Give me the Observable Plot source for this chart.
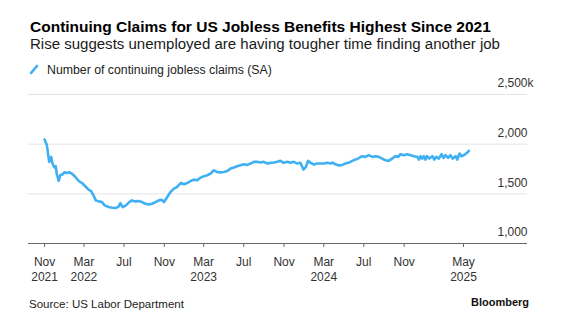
<!DOCTYPE html>
<html><head><meta charset="utf-8">
<script src="https://cdn.jsdelivr.net/npm/d3@7"></script>
<script src="https://cdn.jsdelivr.net/npm/@observablehq/plot@0.6"></script>
<style>
body{margin:0;background:#fff;font-family:"Liberation Sans",Arial,sans-serif;}
#wrap{position:relative;width:564px;height:327px;overflow:hidden;background:#fff}
.t{position:absolute;white-space:nowrap;line-height:1}
</style></head><body>
<div id="wrap">
<div class="t" id="title" data-w="461" style="left:30px;top:19px;font-size:15px;font-weight:bold;color:#000">Continuing Claims for US Jobless Benefits Highest Since 2021</div>
<div class="t" id="sub" data-w="470" style="left:30px;top:36px;font-size:15px;color:#1a1a1a">Rise suggests unemployed are having tougher time finding another job</div>
<svg class="t" style="left:29px;top:64px" width="10" height="11"><line x1="2" y1="9" x2="8" y2="2" stroke="#3fb0f3" stroke-width="2.6" stroke-linecap="round"/></svg>
<div class="t" id="leg" data-w="225" style="left:47px;top:64px;font-size:12px;color:#222">Number of continuing jobless claims (SA)</div>
<div id="chart" style="position:absolute;left:0;top:70px"></div>
<div class="t" id="src" data-w="155" style="left:29px;top:299px;font-size:11px;color:#222">Source: US Labor Department</div>
<div class="t" id="bb" data-w="58" style="right:35px;top:297px;font-size:12px;font-weight:bold;color:#111">Bloomberg</div>
</div>
<script>
// Weekly continuing claims (thousands)
const dates = [
"2021-11-01","2021-11-08","2021-11-15","2021-11-21","2021-11-25","2021-12-01","2021-12-05","2021-12-08","2021-12-14","2021-12-19","2021-12-26",
"2022-01-01","2022-01-08","2022-01-15","2022-01-23","2022-02-03","2022-02-13","2022-02-23","2022-03-05","2022-03-15","2022-03-23","2022-03-30",
"2022-04-06","2022-04-15","2022-04-25","2022-05-03","2022-05-15","2022-05-27","2022-06-06","2022-06-15","2022-06-20","2022-06-27","2022-07-07",
"2022-07-17","2022-07-25","2022-08-04","2022-08-15","2022-08-25","2022-09-04","2022-09-15","2022-09-25","2022-10-05","2022-10-15","2022-10-24",
"2022-10-31","2022-11-10","2022-11-20","2022-11-30","2022-12-10","2022-12-21","2022-12-31",
"2023-01-10","2023-01-20","2023-01-30","2023-02-09","2023-02-19","2023-03-02","2023-03-12","2023-03-22","2023-04-01","2023-04-11","2023-04-21",
"2023-05-01","2023-05-12","2023-05-22","2023-06-01","2023-06-11","2023-06-21","2023-07-01","2023-07-12","2023-07-22","2023-08-01","2023-08-11",
"2023-08-21","2023-08-31","2023-09-11","2023-09-21","2023-10-01","2023-10-11","2023-10-21","2023-10-31","2023-11-11","2023-11-21","2023-12-01",
"2023-12-11","2023-12-21","2023-12-30",
"2024-01-06","2024-01-13","2024-01-21","2024-01-31","2024-02-10","2024-02-20","2024-03-01","2024-03-12","2024-03-22","2024-03-27","2024-04-06",
"2024-04-16","2024-04-26","2024-05-06","2024-05-17","2024-05-27","2024-06-06","2024-06-16","2024-06-26","2024-07-06","2024-07-16","2024-07-27",
"2024-08-06","2024-08-16","2024-08-26","2024-09-05","2024-09-15","2024-09-25","2024-10-06","2024-10-14","2024-10-21","2024-10-31","2024-11-10",
"2024-11-21","2024-12-01","2024-12-11","2024-12-16","2024-12-21","2024-12-26","2024-12-31",
"2025-01-05","2025-01-10","2025-01-17","2025-01-26","2025-02-01","2025-02-07","2025-02-15","2025-02-23","2025-03-01","2025-03-07","2025-03-15",
"2025-03-22","2025-03-29","2025-04-07","2025-04-12","2025-04-19","2025-04-25","2025-05-02","2025-05-12","2025-05-17"
];
const claims = [
2047,1990,1821,1872,1805,1765,1778,1704,1629,1687,1697,
1717,1710,1717,1704,1670,1629,1609,1576,1542,1528,1485,
1434,1424,1417,1384,1367,1360,1357,1374,1407,1367,1384,
1417,1434,1424,1427,1417,1400,1394,1400,1417,1434,1441,
1417,1468,1518,1552,1569,1609,1596,
1609,1629,1643,1636,1663,1677,1687,1704,1737,1720,1714,
1720,1730,1754,1765,1778,1788,1798,1791,1805,1822,1822,
1815,1822,1805,1812,1815,1822,1832,1812,1822,1812,1822,
1805,1812,1744,
1768,1832,1812,1795,1805,1805,1805,1812,1805,1815,1798,
1785,1791,1805,1815,1832,1845,1860,1879,1872,1889,1872,
1879,1872,1855,1838,1832,1855,1879,1872,1899,1889,1899,
1889,1879,1872,1845,1879,1855,1879,
1845,1879,1855,1879,1845,1872,1855,1899,1862,1889,1862,
1889,1855,1879,1845,1906,1879,1889,1913,1933
];
const xTickDates = ["2021-11-01","2022-03-01","2022-07-01","2022-11-01","2023-03-01","2023-07-01","2023-11-01","2024-03-01","2024-07-01","2024-11-01","2025-05-01"];
const xTickLabels = ["Nov\n2021","Mar\n2022","Jul","Nov","Mar\n2023","Jul","Nov","Mar\n2024","Jul","Nov","May\n2025"];
const yTicks = [1000, 1500, 2000, 2500];
const yTickLabels = ["1,000","1,500","2,000","2,500"];
const xDomain = ["2021-09-13","2025-11-12"];

const data = dates.map((d, i) => ({date: new Date(d), value: claims[i]}));
const tickDates = xTickDates.map(d => new Date(d));
const labelMap = new Map(tickDates.map((d, i) => [+d, xTickLabels[i]]));
const yLab = yTicks.map((v, i) => ({v, label: yTickLabels[i]}));

const chart = Plot.plot({
  width: 564, height: 220,
  marginLeft: 28, marginRight: 37, marginTop: 24, marginBottom: 47,
  style: {fontFamily: '"Liberation Sans", Arial, sans-serif', background: "transparent", overflow: "visible"},
  x: {type: "utc", domain: xDomain.map(d => new Date(d))},
  y: {domain: [1000, 2500], axis: null},
  marks: [
    Plot.ruleY(yTicks.filter(v => v > 1000), {stroke: "#e4e4e4", strokeWidth: 1}),
    Plot.ruleY([1000], {stroke: "#666", strokeWidth: 1}),
    Plot.axisX({ticks: tickDates, tickFormat: d => labelMap.get(+d), tickSize: 4, tickPadding: 8,
      fontSize: 12, lineHeight: 1.25, stroke: "#666", fill: "#333"}),
    Plot.text(yLab, {y: "v", text: "label", frameAnchor: "right", textAnchor: "end", dy: -11, fontSize: 12, fill: "#333"}),
    Plot.text(yLab.filter(d => d.v === 2500), {y: "v", text: () => "k", frameAnchor: "right", textAnchor: "start", dy: -11, fontSize: 12, fill: "#333"}),
    Plot.line(data, {x: "date", y: "value", stroke: "#3fb0f3", strokeWidth: 2.6, strokeLinejoin: "round", curve: "linear"})
  ]
});
document.getElementById("chart").appendChild(chart);

// fit text widths to the reference
for (const id of ["title","sub","leg","src","bb"]) {
  const el = document.getElementById(id);
  const target = +el.dataset.w;
  const fs = parseFloat(getComputedStyle(el).fontSize);
  const w = el.getBoundingClientRect().width;
  if (w > 0) el.style.fontSize = (fs * target / w).toFixed(2) + "px";
}
</script>
</body></html>
